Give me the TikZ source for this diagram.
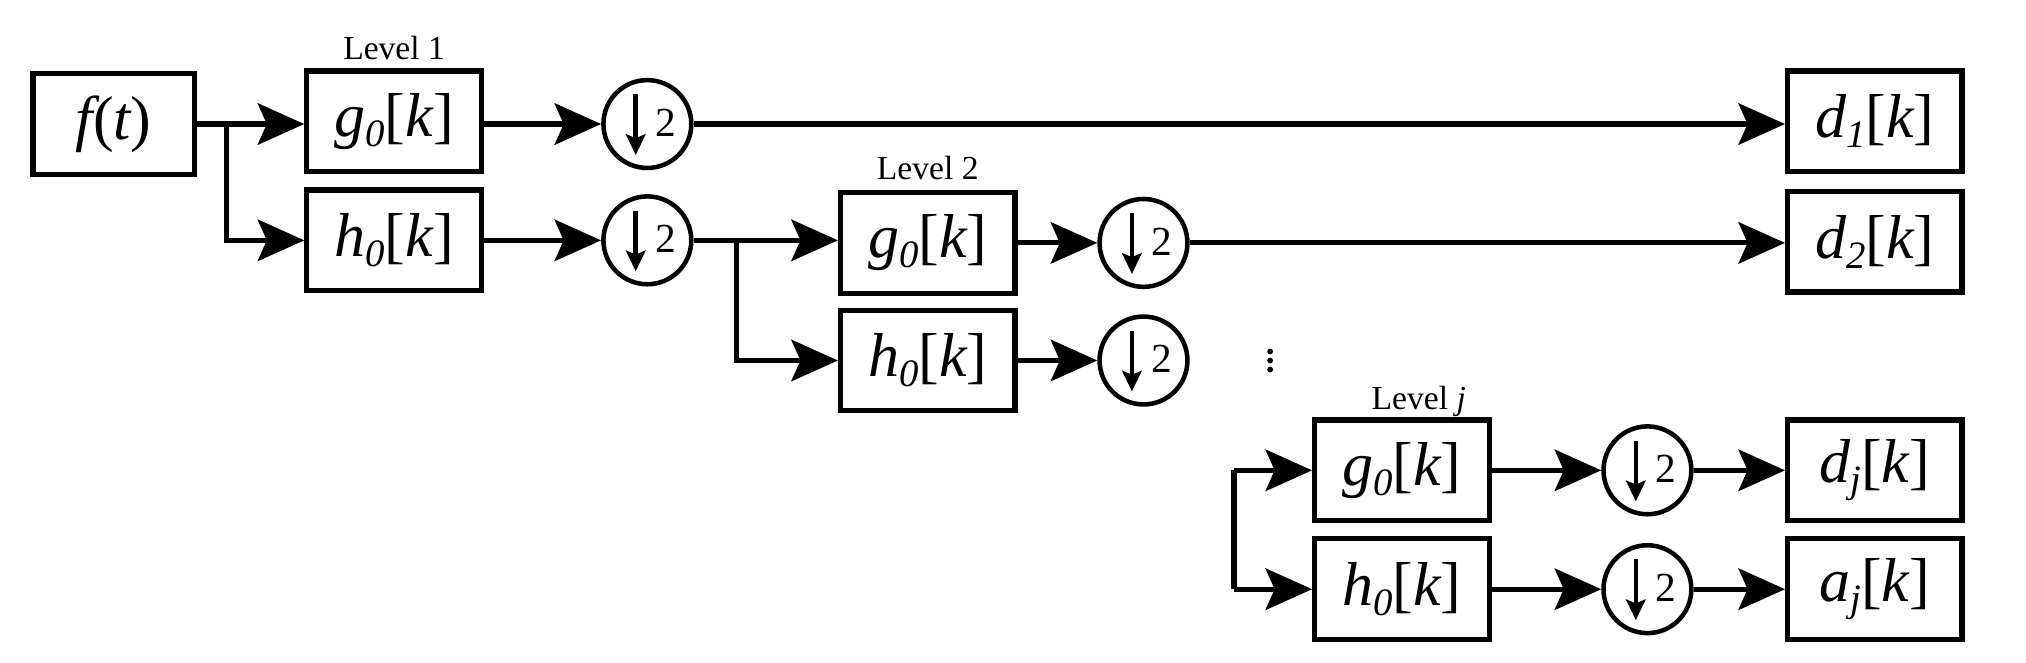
\documentclass[tikz,border=0pt]{standalone}
\usepackage{fontspec}
\setmainfont{Liberation Serif}
\usetikzlibrary{arrows.meta,calc}
\newcommand{\flt}[2]{{\itshape #1}\raisebox{-0.35ex}{\fontsize{30}{30}\selectfont\itshape #2}[{\itshape k}]}
\newcommand{\dsn}[2]{\node[ds] (#1) at #2 {};
  \draw[line width=3.5pt,-{Stealth[length=16pt,width=15pt,inset=3pt]}] ($(#1)+(-9,-23)$) -- ($(#1)+(-9,24)$);
  \node[font=\fontsize{32}{32}\selectfont] at ($(#1)+(14,-1)$) {2};}
\begin{document}
\begin{tikzpicture}[x=1pt,y=-1pt,line width=4pt,
  box/.style={draw,minimum width=135pt,minimum height=78pt,inner sep=0,font=\fontsize{48}{48}\selectfont},
  ds/.style={draw,circle,minimum size=68pt,inner sep=0,line width=3.5pt},
  lvl/.style={font=\fontsize{26}{26}\selectfont},
  arr/.style={-{Stealth[length=36pt,width=32pt,inset=7pt]}},
  dot/.style={circle,fill,inner sep=0,minimum size=4.5pt}]
\useasboundingbox (0,0) rectangle (1568,513);
\node[box,minimum width=125pt] (f) at (88,96) {{\itshape f}({\itshape t})};
\node[box] (g1) at (305,94) {\flt{g}{0}};
\node[box] (h1) at (305,186) {\flt{h}{0}};
\node[lvl] at (305,37) {Level 1};
\node[box] (g2) at (718,188) {\flt{g}{0}};
\node[box] (h2) at (718,279) {\flt{h}{0}};
\node[lvl] at (718,130) {Level 2};
\node[box] (gj) at (1085,364) {\flt{g}{0}};
\node[box] (hj) at (1085,456) {\flt{h}{0}};
\node[lvl] at (1098,311) {Level {\itshape j}};
\node[box] (d1) at (1451,94) {\flt{d}{1}};
\node[box] (d2) at (1451,187) {\flt{d}{2}};
\node[box] (dj) at (1451,364) {\flt{d}{j}};
\node[box] (aj) at (1451,456) {\flt{a}{j}};
\dsn{c1}{(501,96)}
\dsn{c2}{(501,186)}
\dsn{c3}{(885,188)}
\dsn{c4}{(885,279)}
\dsn{c5}{(1275,364)}
\dsn{c6}{(1275,456)}
\node[dot] (v1) at (983,272) {};
\node[dot] (v2) at (983,279) {};
\node[dot] (v3) at (983,286) {};
\coordinate (b1) at (175,96);
\coordinate (b2) at (570,186);
\coordinate (bjt) at (955,364);
\coordinate (bjb) at (955,456);
\draw (f.east |- b1) -- (b1);
\draw[arr] (b1) -- (g1.west |- b1);
\draw[arr] (b1) |- (h1.west);
\draw[arr] (g1.east |- c1) -- (c1.west);
\draw[arr] (h1) -- (c2);
\draw[arr] (c1) -- (d1.west |- c1);
\draw (c2) -- (b2);
\draw[arr] (b2) -- (g2.west |- b2);
\draw[arr] (b2) |- (h2.west);
\draw[arr] (g2) -- (c3);
\draw[arr] (h2) -- (c4);
\draw[arr] (c3) -- (d2.west |- c3);
\draw (bjt) -- (bjb);
\draw[arr] (bjt) -- (gj);
\draw[arr] (bjb) -- (hj);
\draw[arr] (gj) -- (c5);
\draw[arr] (hj) -- (c6);
\draw[arr] (c5) -- (dj);
\draw[arr] (c6) -- (aj);
\end{tikzpicture}
\end{document}
